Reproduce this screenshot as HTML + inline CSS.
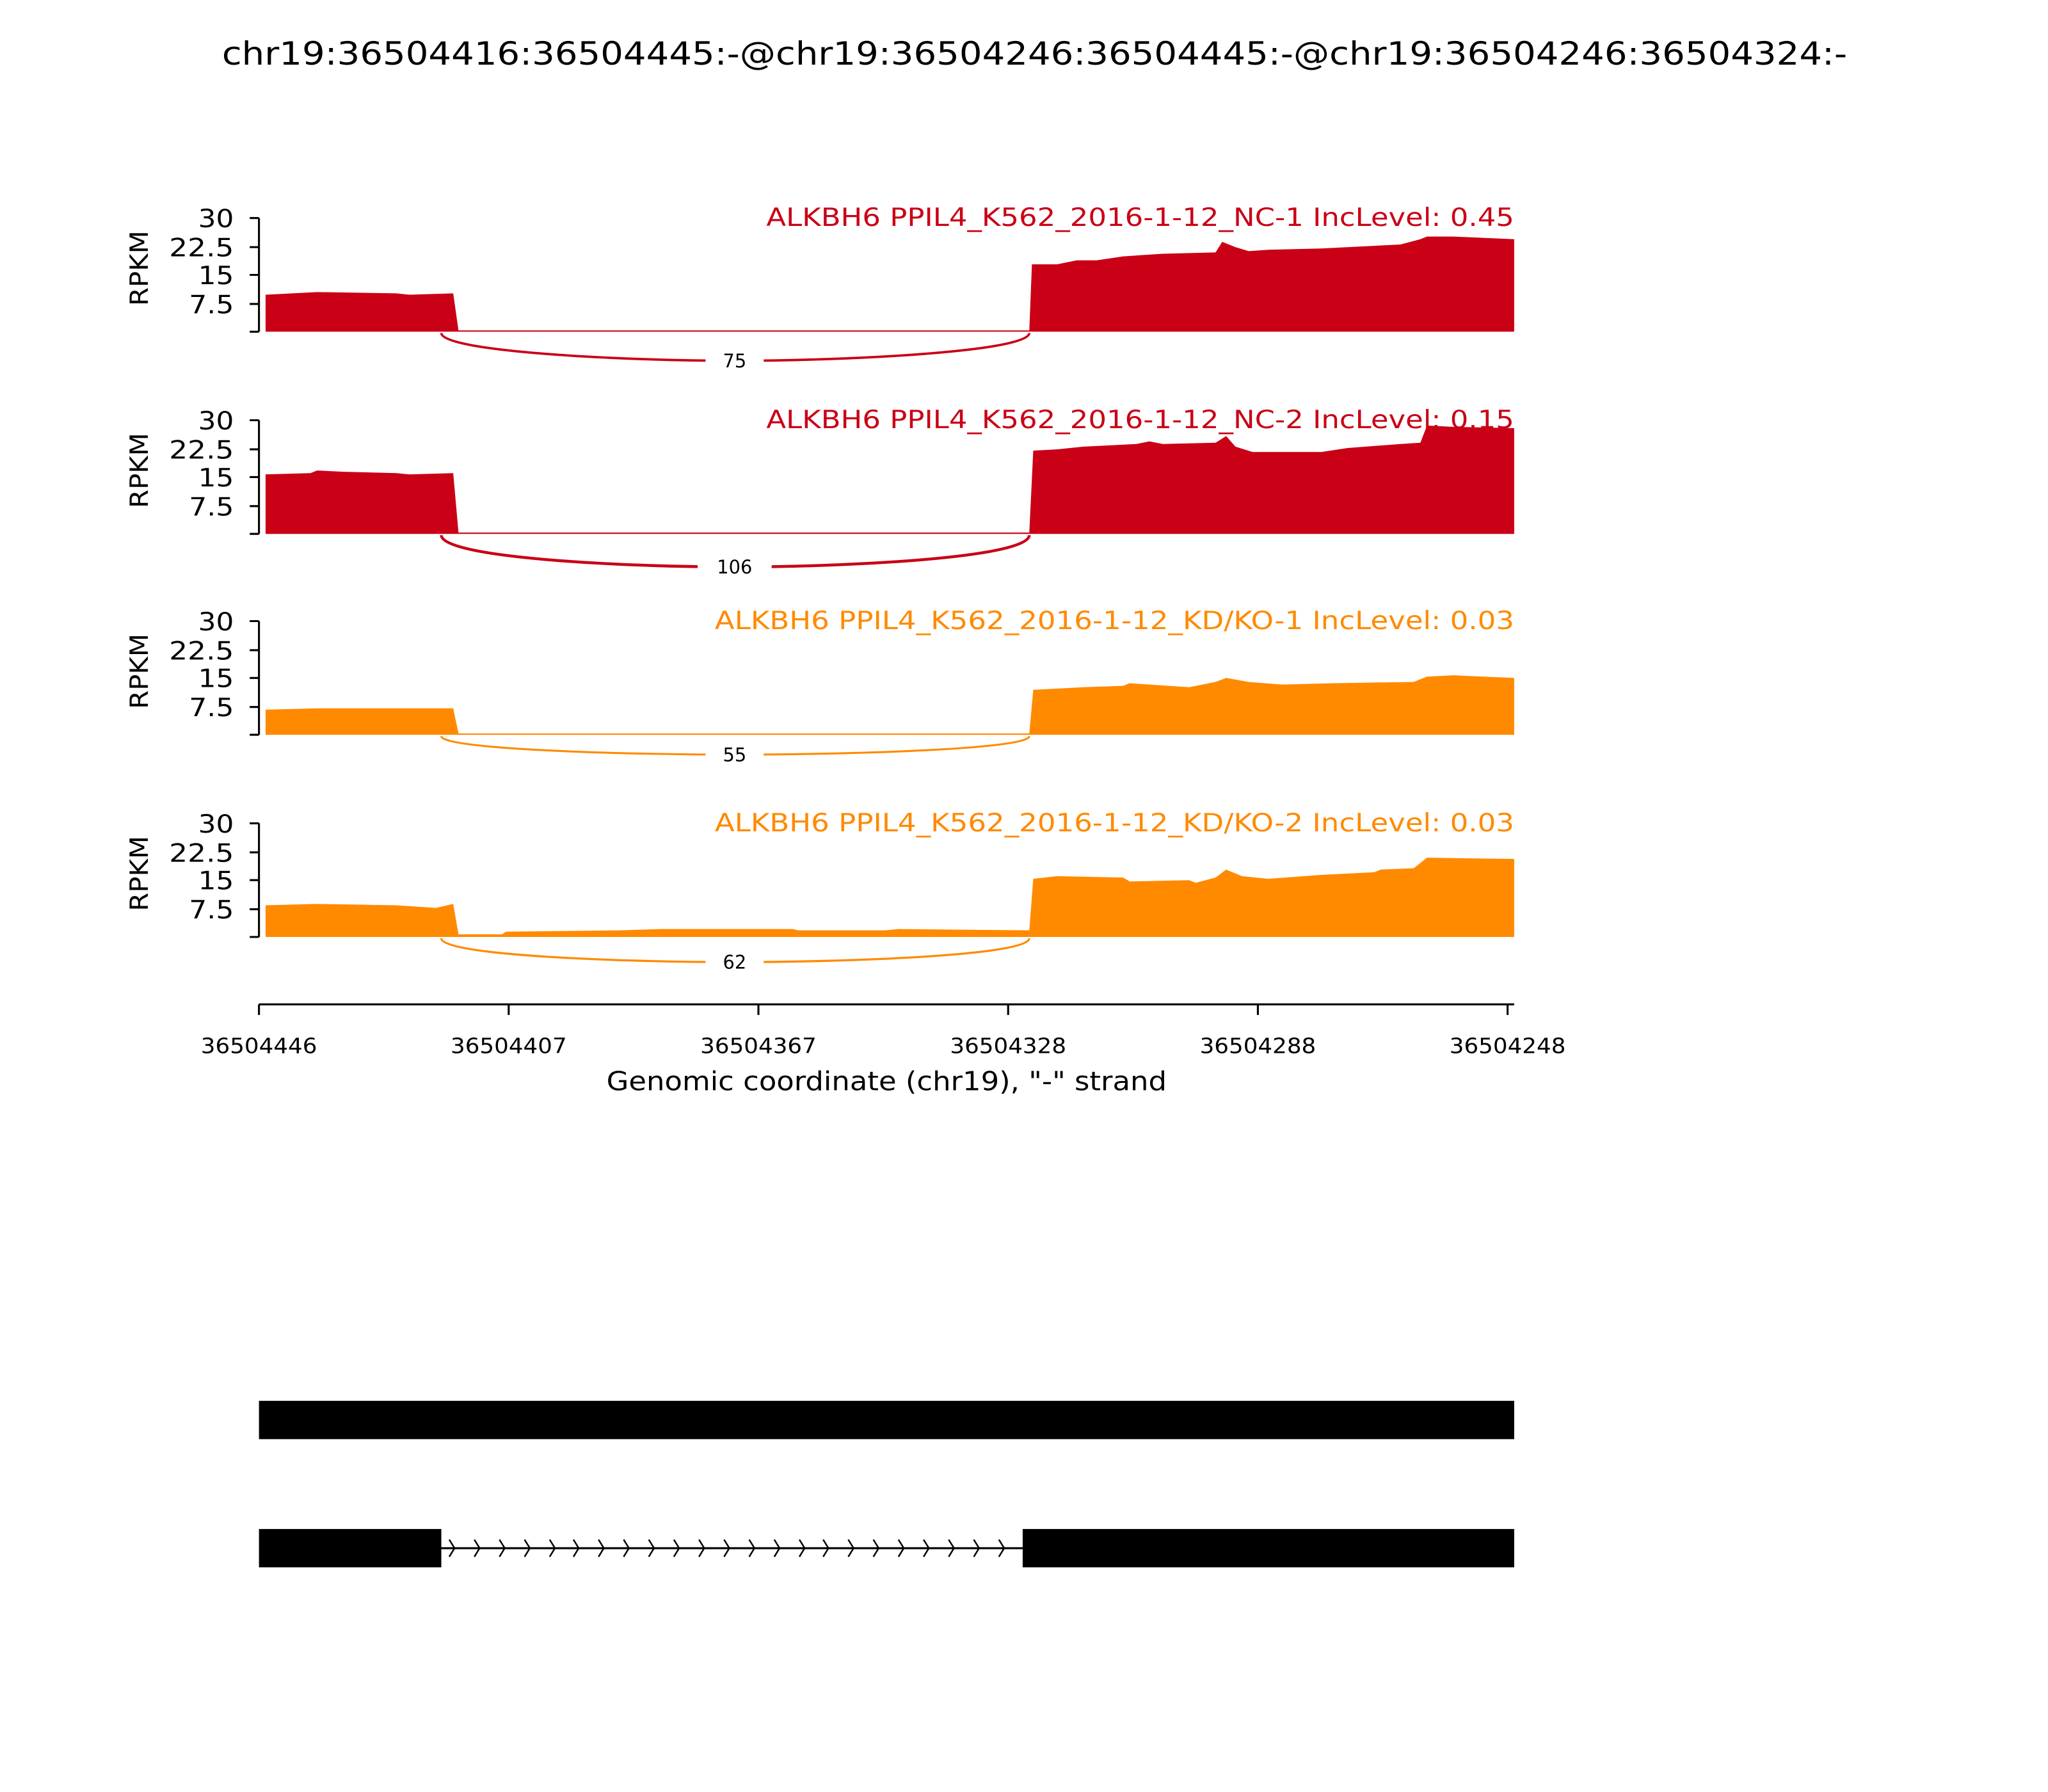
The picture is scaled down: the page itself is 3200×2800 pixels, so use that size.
<!DOCTYPE html>
<html><head><meta charset="utf-8"><style>html,body{margin:0;padding:0;background:#fff}svg{display:block}</style></head>
<body>
<svg width="3200" height="2800" viewBox="0 0 1550 1356" preserveAspectRatio="none" xmlns="http://www.w3.org/2000/svg" font-family="'DejaVu Sans','Liberation Sans',sans-serif">
<rect width="1550" height="1356" fill="#fff"/>
<text x="168" y="49" font-size="24" textLength="1230" lengthAdjust="spacingAndGlyphs">chr19:36504416:36504445:-@chr19:36504246:36504445:-@chr19:36504246:36504324:-</text>

<g stroke="#000" stroke-width="1.5" fill="none">
<path d="M196,165V251 M189,165H196 M189,187H196 M189,208H196 M189,230H196 M189,251H196"/>
<path d="M196,318V404 M189,318H196 M189,340H196 M189,361H196 M189,383H196 M189,404H196"/>
<path d="M196,470V556 M189,470H196 M189,492H196 M189,513H196 M189,535H196 M189,556H196"/>
<path d="M196,623V709 M189,623H196 M189,645H196 M189,666H196 M189,688H196 M189,709H196"/>
</g>
<g font-size="19" text-anchor="end">
<text x="177" y="172" textLength="27" lengthAdjust="spacingAndGlyphs">30</text><text x="177" y="194" textLength="49" lengthAdjust="spacingAndGlyphs">22.5</text><text x="177" y="215" textLength="27" lengthAdjust="spacingAndGlyphs">15</text><text x="177" y="237" textLength="34" lengthAdjust="spacingAndGlyphs">7.5</text>
<text x="177" y="325" textLength="27" lengthAdjust="spacingAndGlyphs">30</text><text x="177" y="347" textLength="49" lengthAdjust="spacingAndGlyphs">22.5</text><text x="177" y="368" textLength="27" lengthAdjust="spacingAndGlyphs">15</text><text x="177" y="390" textLength="34" lengthAdjust="spacingAndGlyphs">7.5</text>
<text x="177" y="477" textLength="27" lengthAdjust="spacingAndGlyphs">30</text><text x="177" y="499" textLength="49" lengthAdjust="spacingAndGlyphs">22.5</text><text x="177" y="520" textLength="27" lengthAdjust="spacingAndGlyphs">15</text><text x="177" y="542" textLength="34" lengthAdjust="spacingAndGlyphs">7.5</text>
<text x="177" y="630" textLength="27" lengthAdjust="spacingAndGlyphs">30</text><text x="177" y="652" textLength="49" lengthAdjust="spacingAndGlyphs">22.5</text><text x="177" y="673" textLength="27" lengthAdjust="spacingAndGlyphs">15</text><text x="177" y="695" textLength="34" lengthAdjust="spacingAndGlyphs">7.5</text>
</g>
<g font-size="19" text-anchor="middle">
<text transform="translate(112,203) rotate(-90)" textLength="57" lengthAdjust="spacingAndGlyphs">RPKM</text>
<text transform="translate(112,356) rotate(-90)" textLength="57" lengthAdjust="spacingAndGlyphs">RPKM</text>
<text transform="translate(112,508) rotate(-90)" textLength="57" lengthAdjust="spacingAndGlyphs">RPKM</text>
<text transform="translate(112,661) rotate(-90)" textLength="57" lengthAdjust="spacingAndGlyphs">RPKM</text>
</g>
<g font-size="19">
<text x="580" y="171" fill="#c90016" textLength="566" lengthAdjust="spacingAndGlyphs">ALKBH6 PPIL4_K562_2016-1-12_NC-1 IncLevel: 0.45</text>
<text x="580" y="324" fill="#c90016" textLength="566" lengthAdjust="spacingAndGlyphs">ALKBH6 PPIL4_K562_2016-1-12_NC-2 IncLevel: 0.15</text>
<text x="541" y="476" fill="#ff8a00" textLength="605" lengthAdjust="spacingAndGlyphs">ALKBH6 PPIL4_K562_2016-1-12_KD/KO-1 IncLevel: 0.03</text>
<text x="541" y="629" fill="#ff8a00" textLength="605" lengthAdjust="spacingAndGlyphs">ALKBH6 PPIL4_K562_2016-1-12_KD/KO-2 IncLevel: 0.03</text>
</g>

<polygon fill="#c90016" points="201,223 240,221 300,222 310,223 343,222 347,250 779,250 781,200 800,200 815,197 830,197 850,194 880,192 920,191 925,183 935,187 945,190 960,189 1000,188 1040,186 1060,185 1075,181 1080,179 1100,179 1146,181 1146,251 201,251"/>
<polygon fill="#c90016" points="201,359 235,358 240,356 260,357 300,358 310,359 343,358 347,403 779,403 782,341 800,340 820,338 840,337 860,336 870,334 880,336 920,335 928,330 935,338 948,342 1000,342 1020,339 1060,336 1075,335 1080,322 1100,323 1146,324 1146,404 201,404"/>
<polygon fill="#ff8a00" points="201,537 240,536 300,536 343,536 347,555 779,555 782,522 820,520 850,519 855,517 870,518 900,520 920,516 928,513 945,516 970,518 1010,517 1070,516 1080,512 1100,511 1146,513 1146,556 201,556"/>
<polygon fill="#ff8a00" points="201,685 240,684 300,685 330,687 343,684 347,707 380,707 383,705 470,704 500,703 600,703 604,704 670,704 680,703 779,704 782,665 800,663 850,664 855,667 900,666 905,668 920,664 928,658 940,663 960,665 1000,662 1040,660 1045,658 1070,657 1080,649 1146,650 1146,709 201,709"/>

<g fill="none">
<path d="M334,252 C334,266 470,273 556,273 C642,273 779,266 779,252" stroke="#c90016" stroke-width="1.8"/>
<path d="M334,405 C334,422 470,429 556,429 C642,429 779,422 779,405" stroke="#c90016" stroke-width="2.2"/>
<path d="M334,557 C334,567 470,571 556,571 C642,571 779,567 779,557" stroke="#ff8a00" stroke-width="1.5"/>
<path d="M334,710 C334,723 470,728 556,728 C642,728 779,723 779,710" stroke="#ff8a00" stroke-width="1.6"/>
</g>
<g fill="#fff"><rect x="534" y="263" width="44" height="20"/><rect x="528" y="419" width="56" height="20"/><rect x="534" y="561" width="44" height="20"/><rect x="534" y="718" width="44" height="20"/></g>
<g font-size="14" text-anchor="middle">
<text x="556" y="278">75</text><text x="556" y="434">106</text><text x="556" y="576">55</text><text x="556" y="733">62</text>
</g>

<g stroke="#000" stroke-width="1.5" fill="none">
<path d="M196,760H1146 M196,760V768 M385,760V768 M574,760V768 M763,760V768 M952,760V768 M1141,760V768"/>
</g>
<g font-size="16" text-anchor="middle">
<text x="196" y="797" textLength="88" lengthAdjust="spacingAndGlyphs">36504446</text><text x="385" y="797" textLength="88" lengthAdjust="spacingAndGlyphs">36504407</text><text x="574" y="797" textLength="88" lengthAdjust="spacingAndGlyphs">36504367</text><text x="763" y="797" textLength="88" lengthAdjust="spacingAndGlyphs">36504328</text><text x="952" y="797" textLength="88" lengthAdjust="spacingAndGlyphs">36504288</text><text x="1141" y="797" textLength="88" lengthAdjust="spacingAndGlyphs">36504248</text>
</g>
<text x="459" y="825" font-size="20" textLength="424" lengthAdjust="spacingAndGlyphs">Genomic coordinate (chr19), "-" strand</text>

<rect x="196" y="1060" width="950" height="29" fill="#000"/>
<rect x="196" y="1157" width="138" height="29" fill="#000"/>
<rect x="774" y="1157" width="372" height="29" fill="#000"/>
<path d="M334,1171.5H774" stroke="#000" stroke-width="1.5"/>
<path stroke="#000" stroke-width="1.2" fill="none" d="M340,1165l4,6.5l-4,6.5 M359,1165l4,6.5l-4,6.5 M378,1165l4,6.5l-4,6.5 M397,1165l4,6.5l-4,6.5 M416,1165l4,6.5l-4,6.5 M434,1165l4,6.5l-4,6.5 M453,1165l4,6.5l-4,6.5 M472,1165l4,6.5l-4,6.5 M491,1165l4,6.5l-4,6.5 M510,1165l4,6.5l-4,6.5 M529,1165l4,6.5l-4,6.5 M548,1165l4,6.5l-4,6.5 M567,1165l4,6.5l-4,6.5 M586,1165l4,6.5l-4,6.5 M605,1165l4,6.5l-4,6.5 M623,1165l4,6.5l-4,6.5 M642,1165l4,6.5l-4,6.5 M661,1165l4,6.5l-4,6.5 M680,1165l4,6.5l-4,6.5 M699,1165l4,6.5l-4,6.5 M718,1165l4,6.5l-4,6.5 M737,1165l4,6.5l-4,6.5 M756,1165l4,6.5l-4,6.5"/>
</svg>
</body></html>
